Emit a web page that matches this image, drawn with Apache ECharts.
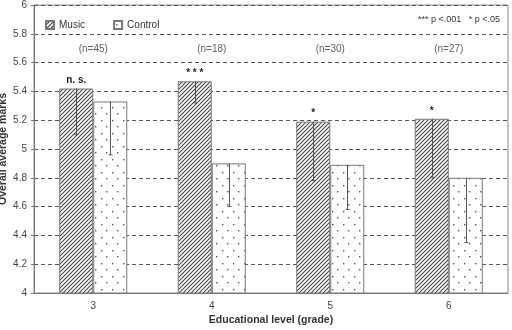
<!DOCTYPE html>
<html>
<head>
<meta charset="utf-8">
<script src="https://cdn.jsdelivr.net/npm/echarts@6/dist/echarts.min.js"></script>
<style>
  html, body { margin: 0; padding: 0; background: #fff; }
  #chart { width: 512px; height: 330px; }
</style>
</head>
<body>
<div id="chart"></div>
<script>
// data
var grades = ['3', '4', '5', '6'];
var musicVals = [5.42, 5.47, 5.19, 5.21];
var musicLow = [5.10, 5.32, 4.78, 4.80];
var controlVals = [5.33, 4.90, 4.89, 4.80];
var controlLow = [4.96, 4.60, 4.58, 4.35];
var nLabels = ['(n=45)', '(n=18)', '(n=30)', '(n=27)'];
var sigLabels = ['n. s.', '* * *', '*', '*'];
var nLevel = [5.69, 5.69, 5.69, 5.69];

var font = 'Liberation Sans, Arial, sans-serif';
var barW = 0.287; // bar width as share of category band

function hatch() {
	var c = document.createElement('canvas');
	c.width = 4; c.height = 4;
	var g = c.getContext('2d');
	g.fillStyle = '#fff';
	g.fillRect(0, 0, 4, 4);
	g.strokeStyle = '#444';
	g.lineWidth = 1.1;
	g.beginPath();
	g.moveTo(-1, 5); g.lineTo(5, -1);
	g.moveTo(-1, 1); g.lineTo(1, -1);
	g.moveTo(3, 5); g.lineTo(5, 3);
	g.stroke();
	return c;
}

function dots() {
	var c = document.createElement('canvas');
	c.width = 11; c.height = 13;
	var g = c.getContext('2d');
	g.fillStyle = '#fff';
	g.fillRect(0, 0, 11, 13);
	g.fillStyle = '#555';
	g.fillRect(2, 3, 1.4, 1.4);
	g.fillRect(7, 9, 1.4, 1.4);
	return c;
}

function errBars(lows, vals, side) {
	return {
		type: 'custom',
		silent: true,
		z: 5,
		data: vals.map(function (v, i) { return [i, v, lows[i]]; }),
		renderItem: function (params, api) {
			var band = api.size([1, 0])[0];
			var top = api.coord([api.value(0), api.value(1)]);
			var bot = api.coord([api.value(0), api.value(2)]);
			var x = Math.round(top[0] + side * band * barW / 2) + 0.5;
			var st = { stroke: '#555', lineWidth: 1 };
			return {
				type: 'group',
				children: [
					{ type: 'line', shape: { x1: x, y1: top[1], x2: x, y2: bot[1] }, style: st },
					{ type: 'line', shape: { x1: x - 2, y1: bot[1], x2: x + 2, y2: bot[1] }, style: st }
				]
			};
		}
	};
}

var myChart = echarts.init(document.getElementById('chart'));

var option = {
	animation: false,
	textStyle: { fontFamily: font },
	grid: {
		left: 34,
		right: 4,
		top: 5,
		bottom: 37,
		outerBoundsMode: 'none',
		show: true,
		borderColor: '#888',
		borderWidth: 1
	},
	legend: {
		left: 40,
		top: 15,
		icon: 'rect',
		itemWidth: 8,
		itemHeight: 8,
		itemGap: 28,
		data: ['Music', 'Control'],
		textStyle: { fontSize: 10, color: '#333', fontFamily: font }
	},
	xAxis: {
		type: 'category',
		data: grades,
		name: 'Educational level (grade)',
		nameLocation: 'middle',
		nameMoveOverlap: false,
		nameGap: 22,
		nameTextStyle: { fontSize: 10.5, fontWeight: 'bold', color: '#333' },
		axisLine: { lineStyle: { color: '#777' } },
		axisTick: { length: 3, lineStyle: { color: '#777' } },
		axisLabel: { fontSize: 10, color: '#444', margin: 8 }
	},
	yAxis: {
		type: 'value',
		min: 4,
		max: 6,
		interval: 0.2,
		name: 'Overall average marks',
		nameLocation: 'middle',
		nameMoveOverlap: false,
		nameGap: 25,
		nameTextStyle: { fontSize: 10.5, fontWeight: 'bold', color: '#333' },
		axisLine: { show: true, lineStyle: { color: '#777' } },
		axisTick: { show: true, length: 3, lineStyle: { color: '#777' } },
		axisLabel: { fontSize: 10, color: '#444', margin: 7 },
		splitLine: { lineStyle: { color: '#555', type: [4, 3] } }
	},
	graphic: [{
		type: 'text',
		right: 12,
		top: 15,
		style: { text: '*** p <.001   * p <.05', fontSize: 9, fill: '#333', fontFamily: font }
	}],
	series: [{
		name: 'Music',
		type: 'bar',
		barWidth: (barW * 100) + '%',
		barGap: '0%',
		itemStyle: { color: { image: hatch(), repeat: 'repeat' }, borderColor: '#777', borderWidth: 1 },
		label: {
			show: true,
			position: 'top',
			distance: 3,
			fontSize: 10,
			fontWeight: 'bold',
			color: '#222',
			formatter: function (p) { return sigLabels[p.dataIndex]; }
		},
		data: musicVals
	}, {
		name: 'Control',
		type: 'bar',
		barWidth: (barW * 100) + '%',
		barGap: '0%',
		itemStyle: { color: { image: dots(), repeat: 'repeat' }, borderColor: '#777', borderWidth: 1 },
		data: controlVals
	}, {
		type: 'scatter',
		symbolSize: 0,
		silent: true,
		label: {
			show: true,
			position: 'inside',
			fontSize: 10,
			color: '#333',
			formatter: function (p) { return nLabels[p.dataIndex]; }
		},
		data: nLevel.map(function (v, i) { return [i, v]; })
	},
	errBars(musicLow, musicVals, -1),
	errBars(controlLow, controlVals, 1)
	]
};

myChart.setOption(option);
</script>
</body>
</html>
